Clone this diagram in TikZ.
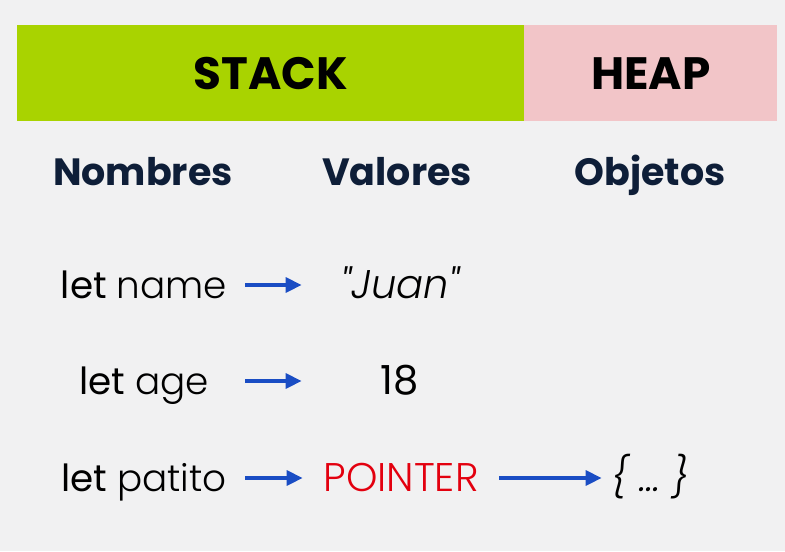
\documentclass[tikz,border=0pt]{standalone}
\usepackage{fontspec}
\setmainfont{Poppins}
\newfontfamily\lightfont{Poppins Light}
\usetikzlibrary{arrows.meta,positioning}
\definecolor{fondo}{HTML}{F1F1F2}
\definecolor{verde}{HTML}{A9D300}
\definecolor{rosa}{HTML}{F2C5C8}
\definecolor{marino}{HTML}{0E1E38}
\definecolor{azul}{HTML}{1A4DC4}
\definecolor{rojo}{HTML}{E3000F}

\begin{document}
\begin{tikzpicture}[x=0.75pt,y=-0.75pt,
    zona/.style={anchor=north west,minimum height=72pt,inner sep=0pt,font=\fontsize{34}{34}\bfseries},
    titulo/.style={anchor=base,text=marino,font=\fontsize{28.5}{28.5}\bfseries},
    nombre/.style={anchor=base,minimum width=136.5pt,inner sep=0pt,text height=22pt,text depth=2.5pt,font=\fontsize{28}{28}\selectfont},
    valor/.style={anchor=base,minimum width=135pt,inner sep=0pt,text height=22pt,text depth=2.5pt,font=\fontsize{30}{30}\lightfont},
    flecha/.style={-{Triangle[length=12pt,width=11pt]},line width=3pt,azul}]
  \fill[fondo] (0,0) rectangle (785,551);

  \node[zona,fill=verde,minimum width=380.25pt] (stack) at (17,25)  {STACK};
  \node[zona,fill=rosa,minimum width=189.75pt]  (heap)  at (524,25) {HEAP};

  \node[titulo] (nombres) at (143,185) {Nombres};
  \node[titulo] (valores) at (397,185) {Valores};
  \node[titulo] (objetos) at (650,185) {Objetos};

  % filas
  \node[nombre] (n1) at (144,298) {let {\lightfont name}};
  \node[nombre] (n2) at (144,394) {let {\lightfont age}};
  \node[nombre] (n3) at (144,491) {let {\lightfont patito}};

  \node[valor] (v1) at (400,298) {\itshape "Juan"};
  \node[valor] (v2) at (400,394) {\fontspec{Poppins}18};
  \node[valor,text=rojo] (v3) at (401,491) {POINTER};
  \node[valor,minimum width=60pt] (obj) at (650,491) {\itshape\{ … \}};

  \draw[flecha,shorten <=7.5pt,shorten >=6pt] (n1) -- (v1);
  \draw[flecha,shorten <=7.5pt,shorten >=6pt] (n2) -- (v2);
  \draw[flecha,shorten <=7.5pt,shorten >=6pt] (n3) -- (v3);
  \draw[flecha,shorten <=6pt,shorten >=6pt] (v3) -- (obj);
\end{tikzpicture}
\end{document}
